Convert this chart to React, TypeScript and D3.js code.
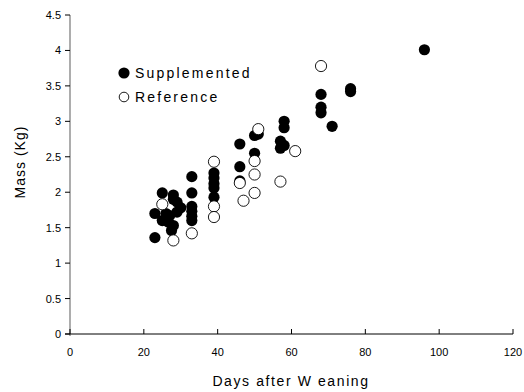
// Scatter of body mass against days after weaning, two feeding groups.
import * as d3 from "d3";

const SUPP_DAYS = [
  96, 76, 76, 68, 68, 68, 71, 58, 58, 57, 57, 58, 51, 50, 50, 46, 46, 46,
  39, 39, 39, 39, 39, 33, 33, 33, 33, 33, 33, 25, 28, 29, 29, 28, 30, 23,
  25, 27, 26.6, 26, 28, 27.5, 23,
];
const SUPP_MASS = [
  4.01, 3.46, 3.42, 3.38, 3.2, 3.12, 2.93, 3.0, 2.91, 2.72, 2.62, 2.66, 2.82,
  2.8, 2.55, 2.68, 2.36, 2.16, 2.27, 2.2, 2.12, 2.06, 1.93, 2.22, 1.99, 1.8,
  1.73, 1.66, 1.6, 1.99, 1.96, 1.86, 1.72, 1.9, 1.78, 1.7, 1.6, 1.67, 1.58,
  1.7, 1.53, 1.46, 1.36,
];
const REF_DAYS = [68, 51, 61, 50, 50, 50, 57, 47, 46, 39, 39, 39, 33, 28, 25];
const REF_MASS = [
  3.78, 2.89, 2.58, 2.44, 2.25, 1.99, 2.15, 1.88, 2.13, 2.43, 1.8, 1.65, 1.42,
  1.32, 1.83,
];
const X_TICKS = [0, 20, 40, 60, 80, 100, 120];
const Y_TICKS = [0, 0.5, 1, 1.5, 2, 2.5, 3, 3.5, 4, 4.5];

const W = 524;
const H = 392;
const FONT = "'Liberation Sans', Arial, sans-serif";

export default function App() {
  const x = d3.scaleLinear().domain([0, 120]).range([70, 513]);
  const y = d3.scaleLinear().domain([0, 4.5]).range([334, 15]);
  const r = 5.6;

  const supp = SUPP_DAYS.map((d, i) => [d, SUPP_MASS[i]]);
  const ref = REF_DAYS.map((d, i) => [d, REF_MASS[i]]);

  return (
    <div style={{ position: "absolute", left: 0, top: 0 }}>
      <svg width={W} height={H} style={{ display: "block", background: "#fff" }} fontFamily={FONT}>
        {/* y axis */}
        <line x1={x(0)} x2={x(0)} y1={y(4.5)} y2={y(0) + 2} stroke="#808080" strokeWidth={1.3} />
        {Y_TICKS.map((t) => (
          <g key={t}>
            <line x1={x(0) - 5} x2={x(0)} y1={y(t)} y2={y(t)} stroke="#000" />
            <text x={61} y={y(t) + 4} textAnchor="end" fontSize={11} fill="#000">
              {t}
            </text>
          </g>
        ))}
        {/* x axis */}
        <line x1={x(0) - 5} x2={x(120)} y1={y(0)} y2={y(0)} stroke="#000" />
        {X_TICKS.map((t) => (
          <g key={t}>
            <line x1={x(t)} x2={x(t)} y1={y(0) - 5} y2={y(0)} stroke="#000" />
            <text x={x(t)} y={356} textAnchor="middle" fontSize={11} fill="#000">
              {t}
            </text>
          </g>
        ))}
        <text x={291} y={386} textAnchor="middle" fontSize={14} letterSpacing={1.6}>
          Days after W eaning
        </text>
        <text
          transform={`translate(25,162) rotate(-90)`}
          textAnchor="middle"
          fontSize={14}
          letterSpacing={1}
        >
          Mass (Kg)
        </text>

        {supp.map(([d, m], i) => (
          <circle key={"s" + i} cx={x(d)} cy={y(m)} r={r} fill="#000" />
        ))}
        {ref.map(([d, m], i) => (
          <circle key={"r" + i} cx={x(d)} cy={y(m)} r={r} fill="#fff" stroke="#000" strokeWidth={0.9} />
        ))}

        {/* legend */}
        <circle cx={124} cy={73} r={r} fill="#000" />
        <text x={135} y={78} fontSize={14} letterSpacing={2.2}>
          Supplemented
        </text>
        <circle cx={124} cy={97} r={4.8} fill="#fff" stroke="#000" strokeWidth={0.9} />
        <text x={135} y={102} fontSize={14} letterSpacing={2.2}>
          Reference
        </text>
      </svg>
    </div>
  );
}
